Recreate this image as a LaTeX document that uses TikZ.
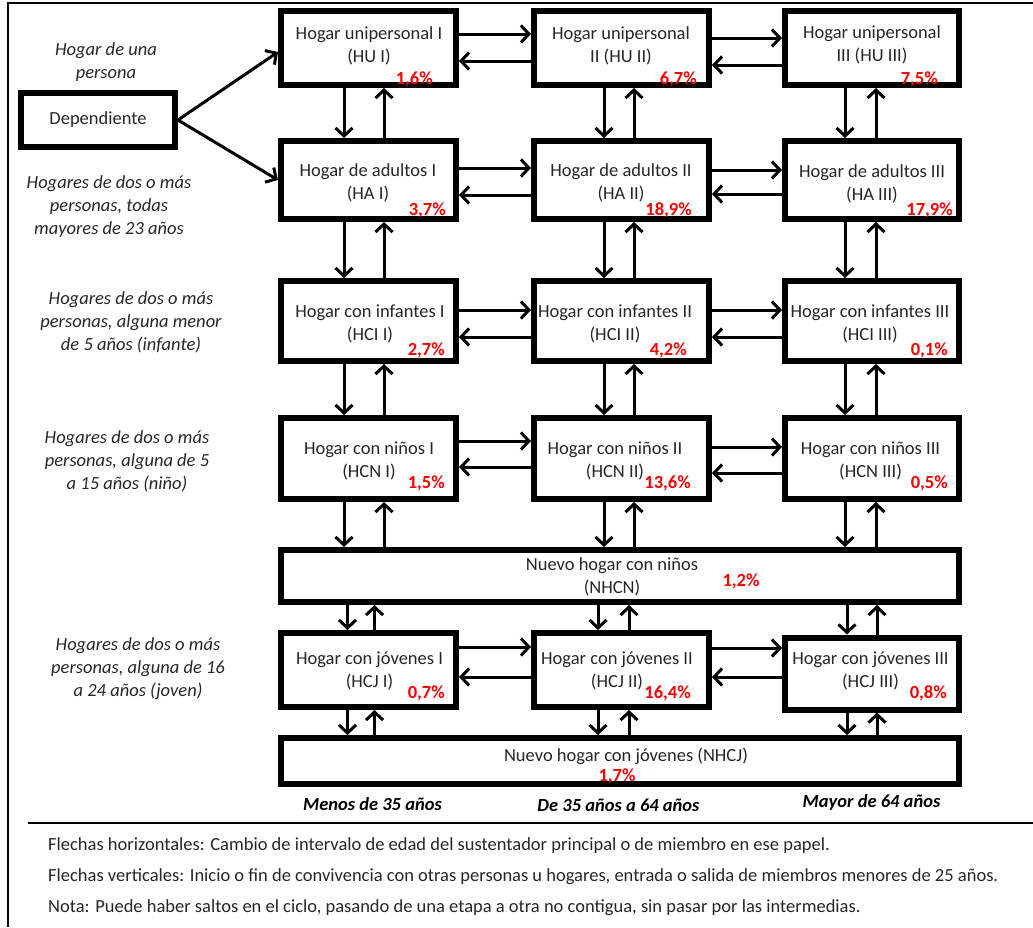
\documentclass[tikz,border=0pt]{standalone}
\usepackage{fontspec}
\setmainfont{Carlito}
\usetikzlibrary{arrows.meta,calc}
\definecolor{txt}{HTML}{262626}
\definecolor{pct}{HTML}{FF0000}
\newcommand\vpair[5]{%
  \draw[arr] ($(#1.center |- #2.south)+(#4,0)$) -- ($(#1.center |- #3.north)+(#4,0)$);
  \draw[arr] ($(#1.center |- #3.north)+(#5,0)$) -- ($(#1.center |- #2.south)+(#5,0)$);}
\newcommand\hpair[4]{%
  \draw[arr] (#1.east |- 0,#3) -- (#2.west |- 0,#3);
  \draw[arr] (#2.west |- 0,#4) -- (#1.east |- 0,#4);}
\begin{document}
\begin{tikzpicture}[x=1pt,y=-1pt,
  every node/.style={font=\fontsize{18.5}{23}\selectfont, inner sep=0pt},
  box/.style={draw, line width=6pt, rectangle},
  lbl/.style={text=txt, align=center},
  side/.style={text=txt, align=center, font=\fontsize{18.5}{23}\selectfont\itshape},
  pc/.style={text=pct, font=\fontsize{18.5}{23}\selectfont\bfseries},
  axis/.style={font=\fontsize{18.5}{23}\selectfont\bfseries\itshape},
  note/.style={text=txt, anchor=base west},
  arr/.style={line width=3pt, -{Straight Barb[length=8pt,width=17pt]}}]
\useasboundingbox (0,0) rectangle (1033,927);
% frame
\draw[line width=2pt] (1033,3) -- (8,3) -- (8,927);
\draw[line width=1.5pt] (28,823) -- (1033,823);

% boxes
\node[box, minimum width=154pt, minimum height=54pt] (dep) at (98,120) {};
\node[lbl] (dept) at (98,120) {Dependiente};

\node[box, minimum width=175pt, minimum height=74pt] (hu1) at (368.5,48) {};
\node[box, minimum width=175pt, minimum height=74pt] (hu2) at (621.5,48) {};
\node[box, minimum width=174pt, minimum height=74pt] (hu3) at (872,48) {};
\node[box, minimum width=175pt, minimum height=78pt] (ha1) at (368.5,180) {};
\node[box, minimum width=175pt, minimum height=78pt] (ha2) at (621.5,180) {};
\node[box, minimum width=174pt, minimum height=78pt] (ha3) at (872,180) {};
\node[box, minimum width=175pt, minimum height=80pt] (hci1) at (368.5,321) {};
\node[box, minimum width=175pt, minimum height=80pt] (hci2) at (621.5,321) {};
\node[box, minimum width=174pt, minimum height=80pt] (hci3) at (872,321) {};
\node[box, minimum width=175pt, minimum height=81pt] (hcn1) at (368.5,458.5) {};
\node[box, minimum width=175pt, minimum height=81pt] (hcn2) at (621.5,458.5) {};
\node[box, minimum width=174pt, minimum height=81pt] (hcn3) at (872,458.5) {};
\node[box, minimum width=678pt, minimum height=52pt] (nhcn) at (620,576) {};
\node[box, minimum width=175pt, minimum height=74pt] (hcj1) at (368.5,670) {};
\node[box, minimum width=175pt, minimum height=74pt] (hcj2) at (621.5,670) {};
\node[box, minimum width=174pt, minimum height=72pt] (hcj3) at (872,673.5) {};
\node[box, minimum width=678pt, minimum height=46pt] (nhcj) at (620,761) {};

% box texts
\node[lbl] (hu1t) at (369,46) {Hogar unipersonal I\\(HU I)};
\node[lbl] (hu2t) at (621,46) {Hogar unipersonal\\II (HU II)};
\node[lbl] (hu3t) at (872,45) {Hogar unipersonal\\III (HU III)};
\node[lbl] (ha1t) at (368,183) {Hogar de adultos I\\(HA I)};
\node[lbl] (ha2t) at (621,183) {Hogar de adultos II\\(HA II)};
\node[lbl] (ha3t) at (872,184) {Hogar de adultos III\\(HA III)};
\node[lbl] (hci1t) at (370,324) {Hogar con infantes I\\(HCI I)};
\node[lbl] (hci2t) at (615,324) {Hogar con infantes II\\(HCI II)};
\node[lbl] (hci3t) at (870,324) {Hogar con infantes III\\(HCI III)};
\node[lbl] (hcn1t) at (369,461) {Hogar con niños I\\(HCN I)};
\node[lbl] (hcn2t) at (615,461) {Hogar con niños II\\(HCN II)};
\node[lbl] (hcn3t) at (870.5,461) {Hogar con niños III\\(HCN III)};
\node[lbl] (nhcnt) at (612,577) {Nuevo hogar con niños\\(NHCN)};
\node[lbl] (hcj1t) at (369.5,671) {Hogar con jóvenes I\\(HCJ I)};
\node[lbl] (hcj2t) at (617,671) {Hogar con jóvenes II\\(HCJ II)};
\node[lbl] (hcj3t) at (870.5,671) {Hogar con jóvenes III\\(HCJ III)};
\node[lbl] (nhcjt) at (626,756) {Nuevo hogar con jóvenes (NHCJ)};

% percentages
\node[pc, anchor=east] (hu1p) at (433,79) {1,6\%};
\node[pc, anchor=east] (hu2p) at (697,79) {6,7\%};
\node[pc, anchor=east] (hu3p) at (938,79) {7,5\%};
\node[pc, anchor=east] (ha1p) at (446,210) {3,7\%};
\node[pc, anchor=east] (ha2p) at (692,210) {18,9\%};
\node[pc, anchor=east] (ha3p) at (953,210) {17,9\%};
\node[pc, anchor=east] (hci1p) at (445,350) {2,7\%};
\node[pc, anchor=east] (hci2p) at (687,350) {4,2\%};
\node[pc, anchor=east] (hci3p) at (948,350) {0,1\%};
\node[pc, anchor=east] (hcn1p) at (445,483) {1,5\%};
\node[pc, anchor=east] (hcn2p) at (691,483) {13,6\%};
\node[pc, anchor=east] (hcn3p) at (948,483) {0,5\%};
\node[pc] (nhcnp) at (741,581) {1,2\%};
\node[pc, anchor=east] (hcj1p) at (445,693) {0,7\%};
\node[pc, anchor=east] (hcj2p) at (691,693) {16,4\%};
\node[pc, anchor=east] (hcj3p) at (947,693) {0,8\%};
\node[pc] (nhcjp) at (617,776) {1,7\%};

% side labels
\node[side] (s1) at (106,62) {Hogar de una\\persona};
\node[side] (s2) at (109,207) {Hogares de dos o más\\personas, todas\\mayores de 23 años};
\node[side] (s3) at (131,322) {Hogares de dos o más\\personas, alguna menor\\de 5 años (infante)};
\node[side] (s4) at (127,461) {Hogares de dos o más\\personas, alguna de 5\\a 15 años (niño)};
\node[side] (s5) at (138,669) {Hogares de dos o más\\personas, alguna de 16\\a 24 años (joven)};

% axis labels
\node[axis] (a1) at (372.5,804) {Menos de 35 años};
\node[axis] (a2) at (618.5,805) {De 35 años a 64 años};
\node[axis] (a3) at (871.5,802) {Mayor de 64 años};

% notes
\node[note] (n1) at (48,850) {Flechas horizontales: Cambio de intervalo de edad del sustentador principal o de miembro en ese papel.};
\node[note] (n2) at (48,881) {Flechas verticales: Inicio o fin de convivencia con otras personas u hogares, entrada o salida de miembros menores de 25 años.};
\node[note] (n3) at (48,912) {Nota: Puede haber saltos en el ciclo, pasando de una etapa a otra no contigua, sin pasar por las intermedias.};

% dependiente arrows
\draw[arr] (dep.east) -- ($(hu1.west)+(0,4)$);
\draw[arr] (dep.east) -- (ha1.west);

% horizontal arrows
\hpair{hu1}{hu2}{34}{61}
\hpair{hu2}{hu3}{38}{65}
\hpair{ha1}{ha2}{168}{195}
\hpair{ha2}{ha3}{170}{194}
\hpair{hci1}{hci2}{310}{337}
\hpair{hci2}{hci3}{310}{337}
\hpair{hcn1}{hcn2}{441}{467}
\hpair{hcn2}{hcn3}{447}{473}
\hpair{hcj1}{hcj2}{647}{677}
\hpair{hcj2}{hcj3}{648}{677}

% vertical arrows
\vpair{hu1}{hu1}{ha1}{-24.5}{15.5}
\vpair{hu2}{hu2}{ha2}{-17.5}{12.5}
\vpair{hu3}{hu3}{ha3}{-27}{4}
\vpair{ha1}{ha1}{hci1}{-24.5}{15.5}
\vpair{ha2}{ha2}{hci2}{-17.5}{12.5}
\vpair{ha3}{ha3}{hci3}{-27}{4}
\vpair{hci1}{hci1}{hcn1}{-24.5}{15.5}
\vpair{hci2}{hci2}{hcn2}{-17.5}{12.5}
\vpair{hci3}{hci3}{hcn3}{-27}{4}
\vpair{hcn1}{hcn1}{nhcn}{-24.5}{15.5}
\vpair{hcn2}{hcn2}{nhcn}{-17.5}{12.5}
\vpair{hcn3}{hcn3}{nhcn}{-27}{4}
\vpair{hcj1}{nhcn}{hcj1}{-21}{6}
\vpair{hcj2}{nhcn}{hcj2}{-23.5}{7.5}
\vpair{hcj3}{nhcn}{hcj3}{-25}{5}
\vpair{hcj1}{hcj1}{nhcj}{-21}{6}
\vpair{hcj2}{hcj2}{nhcj}{-23.5}{7.5}
\vpair{hcj3}{hcj3}{nhcj}{-25}{5}
\end{tikzpicture}
\end{document}
